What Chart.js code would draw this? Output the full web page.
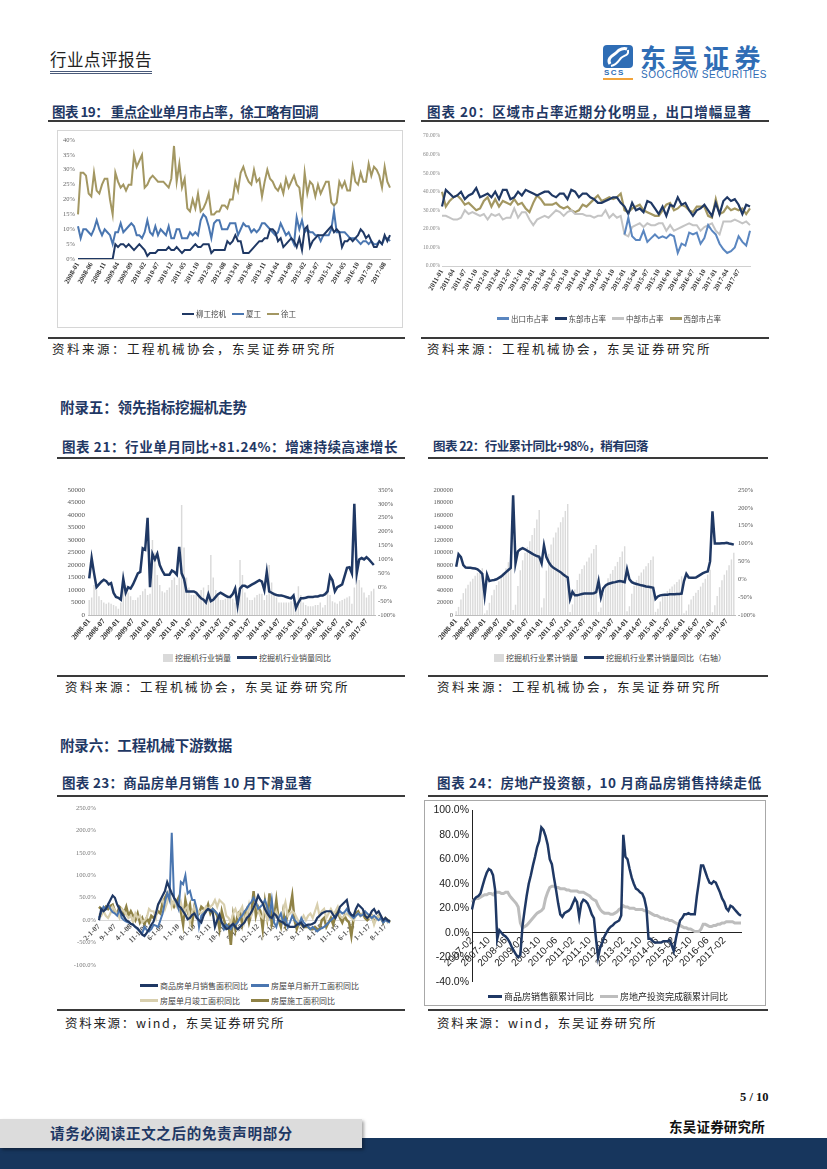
<!DOCTYPE html>
<html>
<head>
<meta charset="utf-8">
<script src="https://cdn.jsdelivr.net/npm/chart.js@4.4.1/dist/chart.umd.min.js"></script>
<style>
  body { margin: 0; width: 827px; height: 1169px; position: relative; background: #fff; overflow: hidden;
         font-family: "Noto Sans CJK SC", sans-serif; }
  .t { position: absolute; white-space: nowrap; line-height: 1; }
  .ttl { font-size: 13.5px; font-weight: bold; color: #1f3864; }
  .hd { font-size: 14.5px; font-weight: bold; color: #1f3864; }
  .src { font-size: 12.5px; color: #222; }
  .rule { position: absolute; height: 2px; background: #3a3a3a; }
  canvas { position: absolute; }
  .lg { position: absolute; white-space: nowrap; font-size: 7.5px; color: #444; line-height: 10px; }
  .lg span { margin-right: 6px; }
  .lg i { display: inline-block; vertical-align: middle; margin-right: 2px; position: relative; top: -1px; }
</style>
</head>
<body>

<!-- 页眉 -->
<div class="t" style="left:50px;top:51px;font-size:16.5px;color:#222;padding-bottom:3px;border-bottom:3px double #4a5a7a" data-w="102">行业点评报告</div>
<svg style="position:absolute;left:603px;top:45px" width="30" height="23">
  <rect x="0" y="0" width="30" height="23" rx="4" fill="#2f6db5"/>
  <path d="M7 19 C 3 12, 12 10, 14 7 C 16 4, 21 3, 24 4" stroke="#fff" stroke-width="3" fill="none"/>
  <path d="M8 21 C 14 20, 16 15, 18 13 C 21 10, 26 11, 25 5" stroke="#fff" stroke-width="2" fill="none"/>
</svg>
<div class="t" style="left:604px;top:69px;font-size:8px;font-weight:bold;color:#2f6db5;font-family:'Liberation Sans';letter-spacing:1.5px">SCS</div>
<div style="position:absolute;left:603px;top:78px;width:30px;height:2px;background:#f2a33a"></div>
<div class="t" style="left:640px;top:44px;font-size:26px;font-weight:bold;color:#2f6db5" data-w="126">东吴证券</div>
<div class="t" style="left:641px;top:70px;font-size:10px;color:#2f6db5;font-family:'Liberation Sans'" data-w="126">SOOCHOW SECURITIES</div>

<!-- 第一行 -->
<div class="t ttl" style="left:52px;top:105px" data-w="266">图表 19：&nbsp;重点企业单月市占率，徐工略有回调</div>
<div class="rule" style="left:48px;top:120px;width:357px"></div>
<div class="t ttl" style="left:427px;top:105px" data-w="325">图表 20：区域市占率近期分化明显，出口增幅显著</div>
<div class="rule" style="left:421px;top:120px;width:348px"></div>
<div style="position:absolute;left:57px;top:130px;width:344px;height:196px;border:1px solid #d6d6d6"></div>
<canvas id="c19" width="343" height="195" style="left:58px;top:131px"></canvas>
<canvas id="c20" width="352" height="190" style="left:418px;top:127px"></canvas>
<div class="lg" id="lg19" style="left:182px;top:309px"></div>
<div class="lg" id="lg20" style="left:497px;top:314px"></div>
<div class="rule" style="left:48px;top:337px;width:357px"></div>
<div class="rule" style="left:421px;top:337px;width:348px"></div>
<div class="t src" style="left:52px;top:343px" data-w="285">资料来源：工程机械协会，东吴证券研究所</div>
<div class="t src" style="left:427px;top:343px" data-w="285">资料来源：工程机械协会，东吴证券研究所</div>

<!-- 附录五 -->
<div class="t hd" style="left:60px;top:400px" data-w="187">附录五：领先指标挖掘机走势</div>
<div class="t ttl" style="left:62px;top:440px" data-w="336">图表 21：行业单月同比+81.24%：增速持续高速增长</div>
<div class="rule" style="left:57px;top:457px;width:348px"></div>
<div class="t ttl" style="left:433px;top:440px;font-size:12.5px" data-w="215">图表 22：行业累计同比+98%，稍有回落</div>
<div class="rule" style="left:428px;top:457px;width:340px"></div>
<canvas id="c21" width="350" height="170" style="left:55px;top:482px"></canvas>
<canvas id="c22" width="344" height="170" style="left:426px;top:482px"></canvas>
<div class="lg" id="lg21" style="left:163px;top:653px;font-size:8px"></div>
<div class="lg" id="lg22" style="left:494px;top:653px;font-size:8px"></div>
<div class="rule" style="left:57px;top:675px;width:348px"></div>
<div class="rule" style="left:428px;top:675px;width:340px"></div>
<div class="t src" style="left:65px;top:681px" data-w="285">资料来源：工程机械协会，东吴证券研究所</div>
<div class="t src" style="left:437px;top:681px" data-w="285">资料来源：工程机械协会，东吴证券研究所</div>

<!-- 附录六 -->
<div class="t hd" style="left:60px;top:738px" data-w="172">附录六：工程机械下游数据</div>
<div class="t ttl" style="left:62px;top:776px" data-w="250">图表 23：商品房单月销售 10 月下滑显著</div>
<div class="rule" style="left:57px;top:795px;width:348px"></div>
<div class="t ttl" style="left:437px;top:776px" data-w="325">图表 24：房地产投资额，10 月商品房销售持续走低</div>
<div class="rule" style="left:428px;top:795px;width:340px"></div>
<canvas id="c23" width="350" height="172" style="left:55px;top:800px"></canvas>
<div style="position:absolute;left:424px;top:800px;width:340px;height:204px;border:1px solid #a8a8a8"></div>
<canvas id="c24" width="339" height="190" style="left:425px;top:801px"></canvas>
<div class="lg" id="lg23" style="left:140px;top:978px;font-size:8px;line-height:15px"></div>
<div class="lg" id="lg24" style="left:488px;top:992px;font-size:9px;color:#222"></div>
<div class="rule" style="left:57px;top:1009px;width:348px"></div>
<div class="rule" style="left:428px;top:1009px;width:340px"></div>
<div class="t src" style="left:65px;top:1017px" data-w="220">资料来源：wind，东吴证券研究所</div>
<div class="t src" style="left:437px;top:1017px" data-w="220">资料来源：wind，东吴证券研究所</div>

<!-- 页脚 -->
<div class="t" style="left:740px;top:1091px;font-size:12.5px;font-weight:bold;font-family:'Liberation Serif';color:#111">5 / 10</div>
<div style="position:absolute;left:0;top:1138px;width:827px;height:31px;background:#17365d"></div>
<div style="position:absolute;left:0;top:1119px;width:362px;height:29px;background:#dcdcdc;box-shadow:2px 2px 3px rgba(0,0,0,0.35)"></div>
<div class="t" style="left:50px;top:1126px;font-size:14.5px;font-weight:bold;color:#1f3864" data-w="243">请务必阅读正文之后的免责声明部分</div>
<div class="t" style="left:669px;top:1120px;font-size:13.5px;font-weight:bold;color:#111" data-w="96">东吴证券研究所</div>

<script>
// ---------- 数据 ----------
function monthLabels(y, m, n, fmt) {
  const out = [];
  for (let i = 0; i < n; i++) {
    const k = m - 1 + i;
    out.push(fmt(y + Math.floor(k / 12), (k % 12) + 1));
  }
  return out;
}
const ym = (y, m) => y + "-" + String(m).padStart(2, "0");
const mdy = (y, m) => m + "-1-" + String(y % 100).padStart(2, "0");

// 图表19：重点企业单月市占率（2008-01 ~ 2017-10）
const months19 = monthLabels(2008, 1, 118, ym);
const names19 = ["柳工挖机", "厦工", "徐工"];
const share19a = [
  0,0,0,0,0,0,0,0,0,0, 0,0,0,0,5,4,5,5,4,5, 4,3,4,5,4,3,1,2,2,2, 3,3,3,3,4,3,3,4,3,2,
  3,3,3,4,5,4,4,5,5,5, 2,3,3,3,3,3,6,5,6,8, 6,6,2,2,2,3,4,5,6,6, 7,7,10,10,9,6,7,4,5,6,
  7,6,4,7,3,10,11,4,6,7, 8,8,8,9,10,11,9,10,9,4, 6,6,7,6,7,8,10,9,7,8, 6,4,4,6,5,8,6,8];
const share19b = [
  11,7,10,10,9,8,10,13,10,8, 10,9,8,5,9,9,12,9,10,11, 12,11,8,8,7,9,13,9,8,11, 8,10,9,8,11,7,7,10,10,7,
  7,7,9,8,9,8,13,15,14,11, 7,12,13,13,10,10,10,12,12,12, 8,10,12,11,11,9,10,9,10,12, 12,11,10,9,8,9,12,10,8,9,
  7,5,14,10,13,9,10,9,9,8, 8,6,8,8,8,10,16,9,9,9, 9,8,7,7,7,6,5,6,6,5, 6,5,5,6,5,7,7,6];
const share19c = [
  15,29,29,28,22,21,29,23,22,25, 27,27,20,15,29,26,24,25,23,25, 25,35,31,33,35,24,25,27,28,27, 26,26,26,25,24,27,38,26,32,24,
  27,17,16,20,17,22,16,17,19,22, 15,15,16,16,18,18,17,20,20,26, 23,29,31,28,26,25,30,26,27,21, 26,30,27,26,24,23,25,22,27,24,
  26,28,25,24,17,29,22,26,25,21, 25,22,24,26,26,19,18,19,26,24, 26,23,23,31,26,25,29,26,26,32, 28,31,30,28,24,31,26,24];

// 图表20：区域市占率（2011-01 ~ 2017-10）
const months20 = monthLabels(2011, 1, 82, ym);
const names20 = ["出口市占率", "东部市占率", "中部市占率", "西部市占率"];
const exportShare = new Array(48).fill(null).concat([
  17,26, 16,14,14,19,13,15,17,15,16,15, 17,16,7,12,11,18,17,18,12,15, 22,19,17,12,9,7,8,10,16,13, 11,19]);
const eastShare = [
  32,41,39,37,38,40,36,38,39,42, 37,38,39,37,40,36,41,41,36,37, 40,38,41,40,39,38,39,40,40,38, 37,39,39,36,41,40,37,39,39,37,
  36,34,34,35,36,37,37,34,32,28, 34,30,31,29,35,34,31,28,32,27, 33,32,37,33,34,30,27,30,31,33, 30,27,34,28,35,37,35,36,33,28, 33,32];
const centralShare = [
  27,27,26,25,25,26,30,28,29,28, 27,28,25,28,27,28,25,26,26,31, 26,29,29,25,22,25,26,27,26,28, 30,29,27,29,30,28,28,28,27,27,
  26,27,27,30,26,28,26,27,17,16, 21,22,23,21,23,22,22,23,23,19, 22,19,20,21,22,23,22,22,19,21, 22,23,19,17,24,24,24,25,24,23, 24,22];
const westShare = [
  40,32,35,37,38,36,33,34,32,30, 31,35,37,32,36,32,35,34,33,36, 33,34,31,29,34,38,36,33,33,33, 34,32,31,32,30,29,30,33,32,34,
  36,38,35,36,37,36,37,39,30,29, 31,32,33,30,29,28,27,27,30,33, 34,30,31,33,32,30,29,32,32,32, 27,26,36,28,29,32,30,31,30,31, 28,31];

// 图表21：挖掘机单月销量及同比（2008-01 ~ 2017-10）
const months21 = monthLabels(2008, 1, 118, ym);
const salesMonthly = [
  6000,7000,12000,10000,7500,6000,5000,4500,5000,4500,4000,3500,
  2500,5000,12000,12000,9000,7500,6000,6000,7000,8000,9500,10500,
  8000,8500,30000,25000,16000,12000,9500,9000,10000,11000,14000,15000,
  12000,15000,44000,27000,15000,11000,8000,8000,8500,8000,10000,11000,
  5000,12000,24000,15000,10000,7500,6000,6000,6500,6500,7000,6500,
  5000,7000,22000,16000,9000,7000,6000,6000,7000,8000,8500,8500,
  6000,8000,20000,13000,9000,7000,5000,5000,5000,5000,5000,5500,
  5000,5000,11500,8000,5000,4000,3500,3500,3500,4000,4000,5000,
  3000,4000,10000,8000,5500,5000,4500,5500,6000,6500,7000,7500,
  4500,11000,15000,14000,11000,9000,7000,8000,9500,10500];
const salesMonthlyYoy = [
  32,105,50,0,10,20,27,22,10,15, -20,-35,-38,-45,30,-20,0,-5,10,30,
  50,55,140,135,250,0,120,100,120,80, 60,45,45,45,60,55,45,145,50,30,
  -15,-15,-15,-15,-20,-30,-40,-45,-55,-25, -50,-45,-35,-25,-20,-25,-30,-35,-35,-25,
  -5,-65,-5,5,5,0,5,10,15,20, 25,20,-10,55,-15,-20,-25,-28,-30,-30,
  -32,-35,-38,-40,-30,-75,-55,-40,-40,-38, -35,-35,-35,-33,-33,-30,-30,-25,-15,40,
  25,-15,0,5,10,40,70,72,50,300, 50,100,105,100,108,100,90,80];

// 图表22：挖掘机累计销量及同比（2008-01 ~ 2017-10）
const months22 = monthLabels(2008, 1, 118, ym);
const salesCum = [
  6000,13000,25000,35000,42500,48500,53500,58000,63000,67500,71500,75000,
  2500,7500,19500,31500,40500,48000,54000,60000,67000,75000,84500,95000,
  8000,16500,46500,71500,87500,99500,109000,118000,128000,139000,153000,168000,
  12000,27000,71000,98000,113000,124000,132000,140000,148500,156500,166500,177500,
  5000,17000,41000,56000,66000,73500,79500,85500,92000,98500,105500,112000,
  5000,12000,34000,50000,59000,66000,72000,78000,85000,93000,101500,110000,
  6000,14000,34000,47000,56000,63000,68000,73000,78000,83000,88000,93500,
  5000,10000,21500,29500,34500,38500,42000,45500,49000,53000,57000,62000,
  3000,7000,17000,25000,30500,35500,40000,45500,51500,58000,65000,72500,
  4500,15500,30500,44500,55500,64500,71500,79500,89000,99500];
const salesCumYoy = [
  35,70,62,40,33,32,32,31,30,28, 22,15,-45,13,-5,-3,-2,0,4,8,
  14,20,26,32,235,45,78,84,87,84, 80,76,72,68,65,63,45,95,62,48,
  38,32,28,24,20,14,9,5,-55,-35, -45,-45,-43,-41,-40,-40,-40,-40,-39,-36,
  -5,-50,-25,-17,-13,-11,-9,-8,-6,-5, -6,-8,28,0,-8,-11,-13,-15,-17,-18,
  -20,-21,-22,-24,-55,-48,-45,-44,-43,-43, -42,-42,-42,-41,-41,-40,-5,15,5,4,
  4,5,9,13,17,20,22,50,190,100, 100,100,101,101,102,100,99,97];

// 图表23：房地产单月同比（2007-02 ~ 2017-10）
const months23 = monthLabels(2007, 2, 129, mdy);
const names23 = ["商品房单月销售面积同比", "房屋单月新开工面积同比", "房屋单月竣工面积同比", "房屋施工面积同比"];
const soldArea = [
  0,25,20,25,35,45,55,50,35,25, 15,8,0,-3,-8,-10,-15,-18,-25,-32, -35,-28,-20,-10,-3,15,35,45,55,65,
  85,72,60,50,42,32,28,20,12,2, 5,12,15,5,0,-5,10,20,25,22, 18,-15,0,12,-5,-12,-20,-18,-12,-8,
  -15,-20,-15,-10,-5,5,10,18,28,40, 55,45,38,25,15,8,5,15,10,0, -3,-5,-10,-12,-15,-15,-15,-10,-8,-5,
  -15,-12,-10,-10,-8,-5,5,10,15,18, 20,20,20,12,5,15,30,35,40,45, 20,12,10,25,35,30,25,10,5,10,
  20,25,15,20,10,0,5,0,-2];
const newStartArea = [
  5,18,30,25,35,25,18,15,10,25, 5,0,-3,-5,-8,-10,-15,-20,-25,-30, -15,-22,-25,-20,-10,-12,-15,0,15,40,
  60,45,195,50,40,25,85,80,100,60, 65,45,45,25,-15,10,15,20,25,20, 25,20,15,5,-5,-20,-10,-15,-20,-10,
  -10,-5,5,10,20,25,35,40,50,40, 25,30,35,45,30,10,45,-5,-15,5, 15,-5,5,-15,-5,10,0,-5,-10,5,
  -5,-10,-15,-20,-15,-20,-25,-20,-18,-15, -10,-5,0,5,10,15,20,15,18,25, 15,10,5,10,15,10,12,20,15,10,
  5,10,5,0,5,-5,0,-3,-5];
const completedArea = [
  15,10,20,10,5,15,30,22,15,5, 25,20,12,5,10,-5,15,5,10,-5, 0,5,25,20,20,5,35,40,45,25,
  40,65,30,45,30,25,40,15,25,30, -5,20,30,10,20,15,20,30,25,30, 35,45,30,45,40,35,10,5,-5,15,
  25,10,20,30,-5,10,35,10,25,45, 20,10,5,30,0,15,40,5,20,5, 0,20,40,10,15,20,15,5,-5,0,
  10,0,10,15,5,20,35,10,20,25, 5,15,25,15,20,30,10,5,10,15, 10,5,0,10,15,10,15,20,10,5,
  10,-10,5,10,5,0,5,-5,0];
const underwayArea = [
  30,25,20,30,25,32,35,20,15,30, 25,15,30,10,20,10,0,15,-5,5, -10,5,-5,10,5,12,20,15,40,50,
  60,50,40,30,40,50,20,-10,45,20, 35,-5,30,10,15,30,25,20,35,15, 25,20,10,-20,20,0,-15,-10,-55,10,
  -20,15,20,-10,15,25,-5,15,65,10, 30,20,-20,40,5,60,-10,5,45,0, -15,20,-10,15,25,55,0,-20,-5,-10,
  -15,-15,-15,-20,-20,-15,-20,-20,0,5, -15,-5,5,-10,10,20,5,-5,10,0, -5,-35,5,15,20,10,15,5,0,5,
  10,-5,5,10,5,-5,5,0,-5];

// 图表24：销售额与投资额累计同比（2007-02 ~ 2017-10）
const months24 = monthLabels(2007, 2, 129, ym);
const names24 = ["商品房销售额累计同比", "房地产投资完成额累计同比"];
const salesValueYoy = [
  19,27,29,30,32,38,44,49,52,51, 47,35,-5,2,0,-2,-3,-5,-8,-12, -15,-18,-20,-18,5,18,30,40,47,55,
  62,70,75,86,84,79,72,60,56,45, 35,24,15,13,16,17,18,20,24,28, 25,13,24,27,26,24,20,15,12,-5,
  -20,-12,-8,-3,0,3,5,6,8,9, 10,14,80,62,60,52,45,40,36,35, 33,32,28,20,-5,-5,-7,-8,-8,-8,
  -8,-7,-7,-7,-6,-10,-15,-5,3,10, 12,15,15,16,15,15,15,30,42,55, 55,50,45,41,40,42,41,37,33,28,
  25,20,18,22,21,19,17,15,14];
const investYoy = [
  25,27,28,28,29,30,31,31,32,32, 31,33,33,33,32,32,33,33,30,28, 26,24,21,8,4,5,6,8,10,12,
  14,16,17,18,20,28,33,37,38,38, 37,37,36,36,36,35,35,34,34,34, 34,33,33,33,32,31,30,28,27,26,
  22,19,17,16,16,16,15,15,16,17, 19,20,22,21,21,20,20,20,19,19, 19,19,18,18,17,16,15,14,14,13,
  12,12,11,11,10,10,9,8,7,6, 5,4,4,3,3,2,1,1,1,3, 7,7,6,5,5,6,6,7,7,8,
  8,9,9,9,9,8,8,8,8];

// ---------- 样式 ----------
const NAVY = "#1f3864", BLUE = "#4a76b0", OLIVE = "#a39762", GRAY = "#c4c4c4",
      BAR = "#dadada", TAN = "#d8cfae", DOLIVE = "#8f8246";
const SERIF = "'Liberation Serif', serif";
const SANS = "'Liberation Sans', Arial, sans-serif";

const fitW = (w) => (s) => { s.width = w; };
const fitH = (h) => (s) => { s.height = h; };
// 每 n 个月显示一个刻度，last 之后不再显示
const everyN = (n, labels, last) => (v, i) =>
  (i % n === 0 && (last === undefined || i <= last) ? labels[i] : "");
const line = (label, data, color, width, extra) =>
  Object.assign({ type: "line", label, data, borderColor: color, backgroundColor: color,
                  borderWidth: width, pointRadius: 0, tension: 0 }, extra || {});
const noGrid = { display: false, drawTicks: false };
const base = (padding) => ({
  animation: false, responsive: false, events: [],
  layout: { padding },
  plugins: { legend: { display: false }, tooltip: { enabled: false } },
});

function legend(id, items, rowBreak) {
  const el = document.getElementById(id);
  el.innerHTML = items.map((it, k) =>
    (rowBreak && k === rowBreak ? "<br>" : "") +
    `<span style="${it.w ? "display:inline-block;width:" + it.w + "px" : ""}"><i style="width:${it.sw}px;height:${it.sh}px;background:${it.c}"></i>${it.t}</span>`
  ).join("");
}

// 图表19
new Chart(document.getElementById("c19"), {
  type: "line",
  data: { labels: months19, datasets: [
    line(names19[0], share19a, NAVY, 2),
    line(names19[1], share19b, BLUE, 2),
    line(names19[2], share19c, OLIVE, 2),
  ] },
  options: Object.assign(base({ top: 9, right: 11, bottom: 33, left: 0 }), {
    scales: {
      x: { grid: noGrid, border: { color: "#bdbdbd" }, afterFit: fitH(34),
           ticks: { autoSkip: false, minRotation: 60, maxRotation: 60, padding: 2, color: "#333",
                    font: { size: 7, weight: "bold", family: SERIF }, callback: everyN(5, months19) } },
      y: { min: 0, max: 40, grid: noGrid, border: { display: false }, afterFit: fitW(20),
           ticks: { stepSize: 5, padding: 3, color: "#666", font: { size: 6.5, family: SERIF },
                    callback: (v) => v + "%" } },
    },
  }),
});
legend("lg19", [
  { t: names19[0], c: NAVY, sw: 12, sh: 2.5 },
  { t: names19[1], c: BLUE, sw: 12, sh: 2.5 },
  { t: names19[2], c: OLIVE, sw: 12, sh: 2.5 },
]);

// 图表20
new Chart(document.getElementById("c20"), {
  type: "line",
  data: { labels: months20, datasets: [
    line(names20[0], exportShare, "#5a86c0", 2),
    line(names20[1], eastShare, NAVY, 2.2),
    line(names20[2], centralShare, GRAY, 2),
    line(names20[3], westShare, OLIVE, 2.2),
  ] },
  options: Object.assign(base({ top: 9, right: 20, bottom: 11, left: 0 }), {
    scales: {
      x: { grid: noGrid, border: { color: "#d0d0d0" }, afterFit: fitH(40),
           ticks: { autoSkip: false, minRotation: 60, maxRotation: 60, padding: 2, color: "#333",
                    font: { size: 7, weight: "bold", family: SERIF }, callback: everyN(3, months20, 78) } },
      y: { min: 0, max: 70, grid: noGrid, border: { display: false }, afterFit: fitW(24),
           ticks: { stepSize: 10, padding: 2, color: "#888", font: { size: 5.5, family: SERIF },
                    callback: (v) => v.toFixed(2) + "%" } },
    },
  }),
});
legend("lg20", names20.map((t, k) => ({ t, c: ["#5a86c0", NAVY, GRAY, OLIVE][k], sw: 12, sh: 3 })));

// 图表21
new Chart(document.getElementById("c21"), {
  type: "bar",
  data: { labels: months21, datasets: [
    { type: "bar", label: "挖掘机行业销量", data: salesMonthly, backgroundColor: BAR,
      barPercentage: 0.6, categoryPercentage: 1, yAxisID: "y", order: 2 },
    line("挖掘机行业销量同比", salesMonthlyYoy, NAVY, 2.5, { yAxisID: "y1", order: 1 }),
  ] },
  options: Object.assign(base({ top: 8, right: 0, bottom: 0, left: 0 }), {
    scales: {
      x: { grid: noGrid, border: { color: "#bdbdbd" }, afterFit: fitH(37),
           ticks: { autoSkip: false, minRotation: 50, maxRotation: 50, padding: 2, color: "#333",
                    font: { size: 7.5, weight: "bold", family: SERIF }, callback: everyN(6, months21) } },
      y: { min: 0, max: 50000, grid: noGrid, border: { display: false }, afterFit: fitW(33),
           ticks: { stepSize: 5000, padding: 3, color: "#555", font: { size: 7, family: SERIF },
                    callback: (v) => String(v) } },
      y1: { position: "right", min: -100, max: 350, grid: noGrid, border: { display: false }, afterFit: fitW(30),
            ticks: { stepSize: 50, padding: 3, color: "#555", font: { size: 6.5, family: SERIF },
                     callback: (v) => v + "%" } },
    },
  }),
});
legend("lg21", [
  { t: "挖掘机行业销量", c: BAR, sw: 10, sh: 8 },
  { t: "挖掘机行业销量同比", c: NAVY, sw: 20, sh: 3 },
]);

// 图表22
new Chart(document.getElementById("c22"), {
  type: "bar",
  data: { labels: months22, datasets: [
    { type: "bar", label: "挖掘机行业累计销量", data: salesCum, backgroundColor: BAR,
      barPercentage: 0.6, categoryPercentage: 1, yAxisID: "y", order: 2 },
    line("挖掘机行业累计销量同比（右轴）", salesCumYoy, NAVY, 2.5, { yAxisID: "y1", order: 1 }),
  ] },
  options: Object.assign(base({ top: 8, right: 0, bottom: 0, left: 0 }), {
    scales: {
      x: { grid: noGrid, border: { color: "#bdbdbd" }, afterFit: fitH(37),
           ticks: { autoSkip: false, minRotation: 50, maxRotation: 50, padding: 2, color: "#333",
                    font: { size: 7.5, weight: "bold", family: SERIF }, callback: everyN(6, months22) } },
      y: { min: 0, max: 200000, grid: noGrid, border: { display: false }, afterFit: fitW(29),
           ticks: { stepSize: 20000, padding: 2, color: "#555", font: { size: 6.5, family: SERIF },
                    callback: (v) => String(v) } },
      y1: { position: "right", min: -100, max: 250, grid: noGrid, border: { display: false }, afterFit: fitW(35),
            ticks: { stepSize: 50, padding: 3, color: "#555", font: { size: 6.5, family: SERIF },
                     callback: (v) => v + "%" } },
    },
  }),
});
legend("lg22", [
  { t: "挖掘机行业累计销量", c: BAR, sw: 10, sh: 8 },
  { t: "挖掘机行业累计销量同比（右轴）", c: NAVY, sw: 20, sh: 3 },
]);

// 图表23
new Chart(document.getElementById("c23"), {
  type: "line",
  data: { labels: months23, datasets: [
    line(names23[0], soldArea, NAVY, 2.2),
    line(names23[1], newStartArea, BLUE, 2),
    line(names23[2], completedArea, TAN, 2.2),
    line(names23[3], underwayArea, DOLIVE, 2.5),
  ] },
  options: Object.assign(base({ top: 8, right: 15, bottom: 6, left: 0 }), {
    scales: {
      x: { position: { y: 0 }, grid: noGrid, border: { color: "#d9d9d9" },
           ticks: { autoSkip: false, minRotation: 45, maxRotation: 45, padding: 2, color: "#555",
                    font: { size: 7.5, weight: "bold", family: SERIF }, callback: everyN(7, months23) } },
      y: { min: -100, max: 250, grid: noGrid, border: { display: false }, afterFit: fitW(44),
           ticks: { stepSize: 50, padding: 3, color: "#777", font: { size: 6.5, family: SERIF },
                    callback: (v) => v.toFixed(1) + "%" } },
    },
  }),
});
legend("lg23", names23.map((t, k) => ({ t, c: [NAVY, BLUE, TAN, DOLIVE][k], sw: 18, sh: 3, w: 105 })), 2);

// 图表24
new Chart(document.getElementById("c24"), {
  type: "line",
  data: { labels: months24, datasets: [
    line(names24[0], salesValueYoy, NAVY, 2.5),
    line(names24[1], investYoy, "#bdbdbd", 3),
  ] },
  options: Object.assign(base({ top: 9, right: 23, bottom: 5, left: 0 }), {
    scales: {
      x: { position: { y: 0 }, grid: noGrid, border: { color: "#222" },
           ticks: { autoSkip: false, minRotation: 45, maxRotation: 45, padding: 2, color: "#222",
                    font: { size: 10, family: SANS }, callback: everyN(8, months24, 120) } },
      y: { min: -40, max: 100, grid: noGrid, border: { display: true, color: "#222" }, afterFit: fitW(47),
           ticks: { stepSize: 20, padding: 3, color: "#222", font: { size: 10.5, family: SANS },
                    callback: (v) => v.toFixed(1) + "%" } },
    },
  }),
});
legend("lg24", [
  { t: names24[0], c: NAVY, sw: 14, sh: 3 },
  { t: names24[1], c: "#bdbdbd", sw: 18, sh: 3 },
]);

// 文本宽度对齐参考
document.querySelectorAll("[data-w]").forEach((el) => {
  const target = +el.dataset.w, n = el.textContent.length;
  const diff = target - el.getBoundingClientRect().width;
  el.style.letterSpacing = (diff / n).toFixed(2) + "px";
});
</script>
</body>
</html>
